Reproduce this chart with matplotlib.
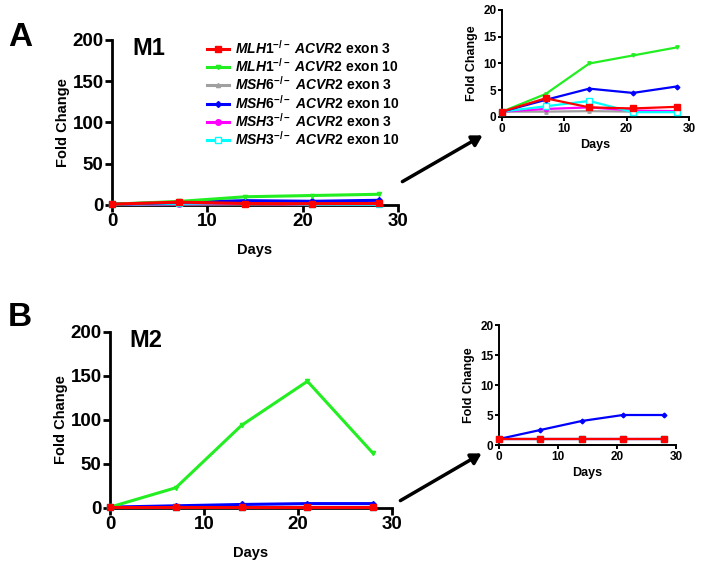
import matplotlib
matplotlib.use("Agg")
import matplotlib.pyplot as plt

plt.rcParams['font.family'] = 'Liberation Sans'
plt.rcParams['font.weight'] = 'bold'
plt.rcParams['mathtext.fontset'] = 'custom'
plt.rcParams['mathtext.it'] = 'Liberation Sans:italic:bold'
plt.rcParams['mathtext.rm'] = 'Liberation Sans:bold'

# days sampled
days = [0, 7, 14, 21, 28]

# M1 fold change values
m1_mlh1_ex3 = [1.0, 3.5, 1.8, 1.6, 1.9]
m1_mlh1_ex10 = [1.0, 4.3, 10.0, 11.5, 13.0]
m1_msh6_ex3 = [1.0, 1.0, 1.1, 1.0, 1.0]
m1_msh6_ex10 = [1.0, 3.2, 5.3, 4.5, 5.7]
m1_msh3_ex3 = [1.0, 1.5, 1.8, 1.2, 1.1]
m1_msh3_ex10 = [1.0, 2.0, 3.0, 0.9, 0.9]

# M2 fold change values
m2_mlh1_ex3 = [1.0, 1.0, 1.0, 1.0, 1.0]
m2_mlh1_ex10 = [1.0, 23.0, 94.0, 144.0, 62.0]
m2_msh6_ex3 = [1.0, 1.0, 1.0, 1.0, 1.0]
m2_msh6_ex10 = [1.0, 2.5, 4.0, 5.0, 5.0]
m2_msh3_ex3 = [1.0, 1.0, 1.0, 1.0, 1.0]
m2_msh3_ex10 = [1.0, 1.0, 1.0, 1.0, 1.0]

labels = [r"$\it{MLH1}^{-/-}$ $\it{ACVR2}$ exon 3",
          r"$\it{MLH1}^{-/-}$ $\it{ACVR2}$ exon 10",
          r"$\it{MSH6}^{-/-}$ $\it{ACVR2}$ exon 3",
          r"$\it{MSH6}^{-/-}$ $\it{ACVR2}$ exon 10",
          r"$\it{MSH3}^{-/-}$ $\it{ACVR2}$ exon 3",
          r"$\it{MSH3}^{-/-}$ $\it{ACVR2}$ exon 10"]

# style per series: color, marker, facecolor, marker size
styles = [('#ff0000', 's', '#ff0000', 5),
          ('#22ee22', 'v', '#22ee22', 3),
          ('#a0a0a0', '^', '#a0a0a0', 3),
          ('#0000ff', 'D', '#0000ff', 3),
          ('#ff00ff', 'o', '#ff00ff', 4),
          ('#00ffff', 's', 'white', 5)]

m1 = [m1_mlh1_ex3, m1_mlh1_ex10, m1_msh6_ex3, m1_msh6_ex10, m1_msh3_ex3, m1_msh3_ex10]
m2 = [m2_mlh1_ex3, m2_mlh1_ex10, m2_msh6_ex3, m2_msh6_ex10, m2_msh3_ex3, m2_msh3_ex10]
# drawing order: red on top
order = [2, 4, 5, 3, 1, 0]

W, H = 702, 567
fig = plt.figure(figsize=(W / 100, H / 100), dpi=100)


def px_axes(left, right, top, bottom):
    return fig.add_axes([left / W, 1 - bottom / H, (right - left) / W, (bottom - top) / H])


def style_axes(ax, ymax, ystep, lw, tsize, lsize, tlen):
    ax.set_xlim(0, 30)
    ax.set_ylim(0, ymax)
    ax.set_xticks([0, 10, 20, 30])
    ax.set_yticks(range(0, ymax + 1, ystep))
    for s in ['top', 'right']:
        ax.spines[s].set_visible(False)
    for s in ['left', 'bottom']:
        ax.spines[s].set_linewidth(lw)
    ax.tick_params(width=lw, length=tlen, labelsize=tsize, pad=1)
    ax.set_xlabel('Days', fontsize=lsize, fontweight='bold')
    ax.set_ylabel('Fold Change', fontsize=lsize, fontweight='bold')
    ax.patch.set_alpha(0)


def draw(ax, data, lw, ms_scale, skip=()):
    handles = []
    for i in order:
        if i in skip:
            continue
        c, m, fc, ms = styles[i]
        h, = ax.plot(days, data[i], color=c, marker=m, markerfacecolor=fc,
                     markeredgecolor=c, markersize=ms * ms_scale, lw=lw,
                     clip_on=False, label=labels[i], zorder=3)
        handles.append((i, h))
    return dict(handles)


# panel A main
axA = px_axes(112, 398, 40, 205)
hA = draw(axA, m1, 2.2, 1.0)
style_axes(axA, 200, 50, 2.0, 13.5, 10.5, 5)
axA.xaxis.labelpad = 9
axA.yaxis.labelpad = 2
axA.text(0.07, 0.95, 'M1', transform=axA.transAxes, fontsize=17, fontweight='bold', va='center')

# panel A inset
axAi = px_axes(502, 689, 10, 117)
draw(axAi, m1, 1.6, 0.8)
style_axes(axAi, 20, 5, 1.4, 8.5, 9, 3)
axAi.xaxis.labelpad = 3

# panel B main
axB = px_axes(110, 392, 332, 508)
draw(axB, m2, 2.2, 1.0)
style_axes(axB, 200, 50, 2.0, 13.5, 10.5, 5)
axB.xaxis.labelpad = 9
axB.yaxis.labelpad = 2
axB.text(0.07, 0.95, 'M2', transform=axB.transAxes, fontsize=17, fontweight='bold', va='center')

# panel B inset (green off scale)
axBi = px_axes(499, 676, 325, 445)
draw(axBi, m2, 1.6, 0.8, skip=(1,))
style_axes(axBi, 20, 5, 1.4, 8.5, 9, 3)
axBi.xaxis.labelpad = 3

# legend
fig.legend([hA[i] for i in range(6)], labels, loc='upper left',
           bbox_to_anchor=(200 / W, 1 - 32 / H), frameon=False, fontsize=10,
           handlelength=1.6, handletextpad=0.4, labelspacing=0.02, borderpad=0)

# panel letters
fig.text(8 / W, 1 - 38 / H, 'A', fontsize=24, fontweight='bold', va='center')
fig.text(8 / W, 1 - 318 / H, 'B', fontsize=24, fontweight='bold', va='center')

# arrows
for (x0, y0, x1, y1) in [(400, 183, 485, 134), (398, 502, 484, 452)]:
    fig.add_artist(matplotlib.patches.FancyArrowPatch(
        (x0 / W, 1 - y0 / H), (x1 / W, 1 - y1 / H), transform=fig.transFigure,
        arrowstyle='-|>,head_length=6,head_width=3.5', lw=2.5, color='black',
        mutation_scale=1))

fig.savefig('out.png', dpi=100)
